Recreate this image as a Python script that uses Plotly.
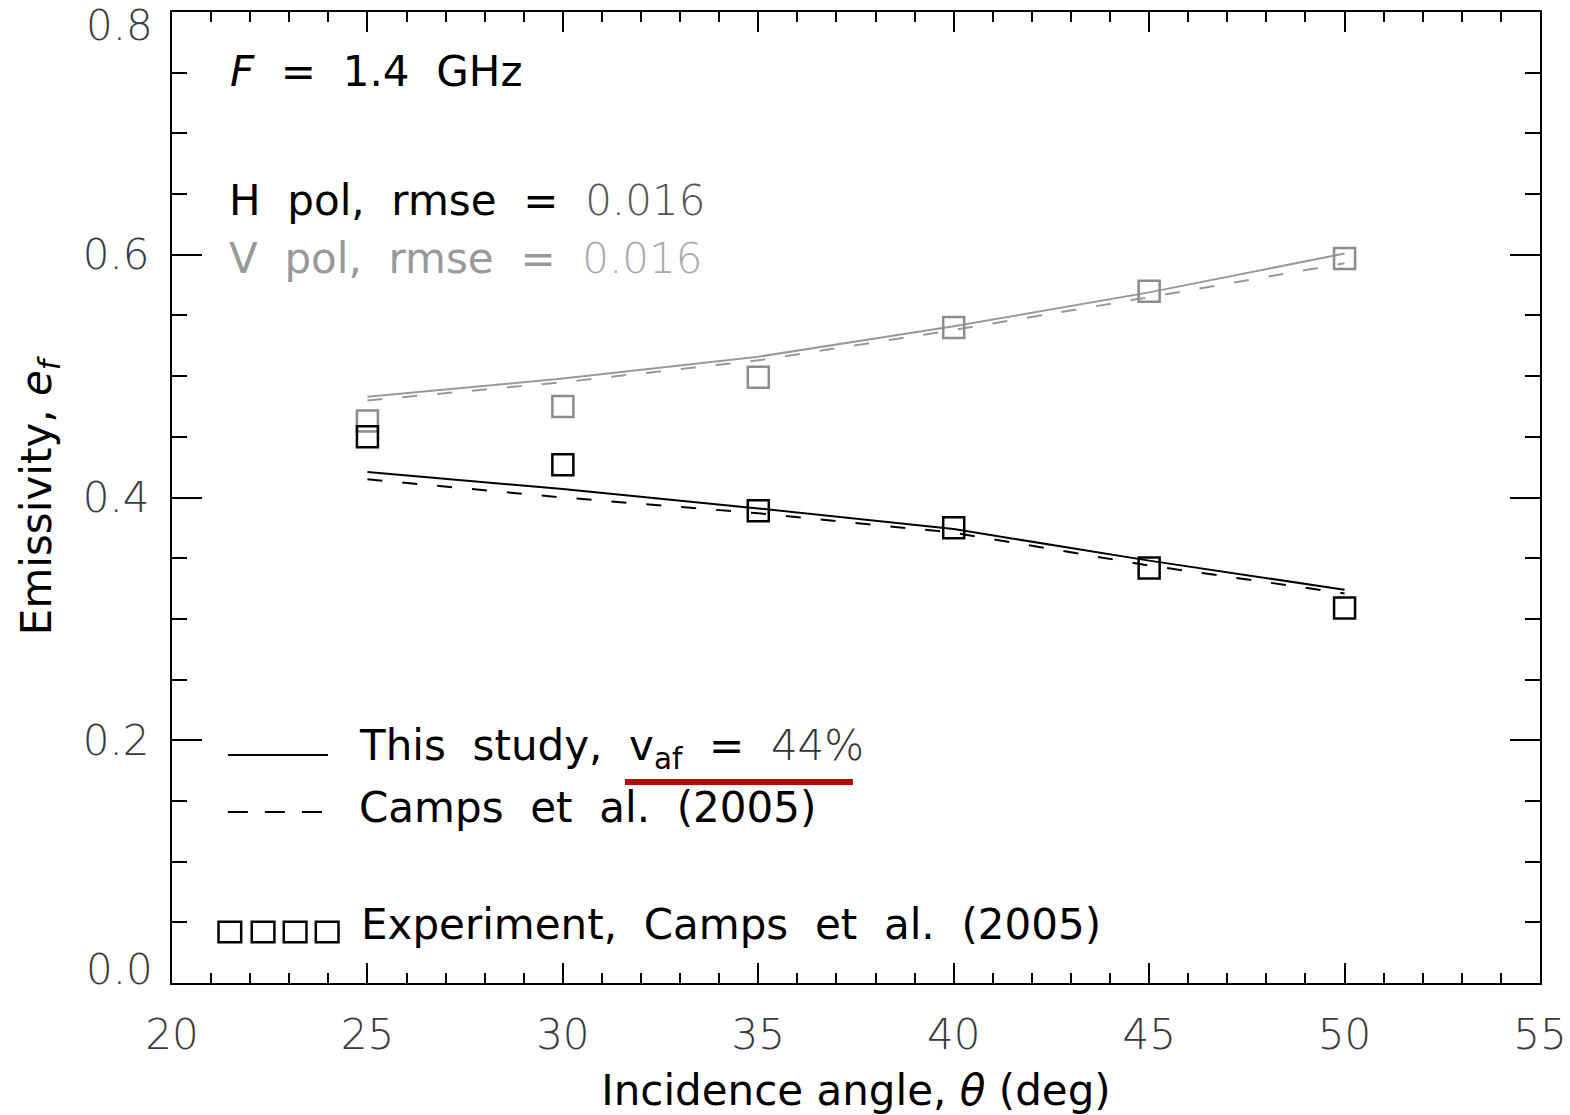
import plotly.graph_objects as go

# ---- data ----
angles = [25, 30, 35, 40, 45, 50]

# experiment (Camps et al. 2005)
exp_h = [0.450, 0.427, 0.389, 0.375, 0.342, 0.309]
exp_v = [0.463, 0.475, 0.499, 0.540, 0.570, 0.597]

# this study (solid)
study_h = [0.421, 0.407, 0.391, 0.374, 0.348, 0.324]
study_v = [0.483, 0.498, 0.516, 0.541, 0.569, 0.601]

# Camps et al. (2005) model (dashed)
camps_h = [0.415, 0.400, 0.387, 0.371, 0.344, 0.321]
camps_v = [0.480, 0.495, 0.513, 0.538, 0.565, 0.593]

x_ticks = [20, 25, 30, 35, 40, 45, 50, 55]
y_ticks = [0.0, 0.2, 0.4, 0.6, 0.8]
y_tick_labels = ["0.0", "0.2", "0.4", "0.6", "0.8"]
# end labels are drawn nudged inward (as in the original), the rest by the axis
y_end_labels = {0.0: "0.0", 0.8: "0.8"}

BLACK = "#000000"
GRAY = "#999999"
NUMCOL = "#3a3a3a"
FONT = "DejaVu Sans"
FS = 42

fig = go.Figure()

# model curves
fig.add_trace(go.Scatter(x=angles, y=camps_v, mode="lines",
                         line=dict(color=GRAY, width=2, dash="15px,20px"), showlegend=False))
fig.add_trace(go.Scatter(x=angles, y=study_v, mode="lines",
                         line=dict(color=GRAY, width=2), showlegend=False))
fig.add_trace(go.Scatter(x=angles, y=camps_h, mode="lines",
                         line=dict(color=BLACK, width=2, dash="15px,20px"), showlegend=False))
fig.add_trace(go.Scatter(x=angles, y=study_h, mode="lines",
                         line=dict(color=BLACK, width=2), showlegend=False))

# experiment markers
fig.add_trace(go.Scatter(x=angles, y=exp_v, mode="markers",
                         marker=dict(symbol="square-open", size=21, color="#8c8c8c",
                                     line=dict(width=2.5, color="#8c8c8c")),
                         showlegend=False))
fig.add_trace(go.Scatter(x=angles, y=exp_h, mode="markers",
                         marker=dict(symbol="square-open", size=21, color=BLACK,
                                     line=dict(width=2.5, color=BLACK)),
                         showlegend=False))

SP = "\u00a0\u00a0"
THIN = "font-weight:300"

def ann(x, y, text, color=BLACK):
    return dict(x=x, y=y, xref="x", yref="y", text=text, showarrow=False,
                xanchor="left", yanchor="middle",
                font=dict(family=FONT, size=FS, color=color))

annotations = [
    ann(21.43, 0.7506, f"<i>F</i>{SP}={SP}1.4{SP}GHz"),
    ann(21.40, 0.645, f"H{SP}pol,{SP}rmse{SP}={SP}<span style='color:#555555;{THIN}'>0.016</span>"),
    ann(21.40, 0.597, f"V{SP}pol,{SP}rmse{SP}={SP}<span style='color:#aaaaaa;{THIN}'>0.016</span>", color=GRAY),
    ann(24.73, 0.1928, f"This{SP}study,{SP}v<sub>af</sub>{SP}={SP}<span style='color:#333333;{THIN}'>44%</span>"),
    ann(24.73, 0.1442, f"Camps{SP}et{SP}al.{SP}(2005)"),
    ann(24.78, 0.0486, f"Experiment,{SP}Camps{SP}et{SP}al.{SP}(2005)"),
]

# nudged end tick labels of the y axis
for val, lab in y_end_labels.items():
    annotations.append(dict(
        x=0, xref="paper", xshift=-17, xanchor="right",
        y=val, yref="y", yshift=(14 if val == 0.0 else -13), yanchor="middle",
        text=lab, showarrow=False,
        font=dict(family=FONT, size=FS, color=NUMCOL, weight=300)))

shapes = [
    # legend keys
    dict(type="line", xref="x", yref="y", x0=21.43, x1=23.99, y0=0.1878, y1=0.1878,
         line=dict(color=BLACK, width=2)),
    dict(type="line", xref="x", yref="y", x0=21.43, x1=23.95, y0=0.1409, y1=0.1409,
         line=dict(color=BLACK, width=2, dash="20px,17px")),
    # red underline
    dict(type="line", xref="x", yref="y", x0=31.59, x1=37.42, y0=0.1656, y1=0.1656,
         line=dict(color="#c00000", width=6)),
]
for cx in [21.48, 22.33, 23.15, 23.97]:
    shapes.append(dict(type="rect", xref="x", yref="y",
                       x0=cx - 0.29, x1=cx + 0.29, y0=0.042 - 0.0085, y1=0.042 + 0.0085,
                       line=dict(color=BLACK, width=2.5)))

fig.update_layout(
    width=1570, height=1115,
    margin=dict(l=172, r=30, t=12, b=132),
    paper_bgcolor="white", plot_bgcolor="white",
    font=dict(family=FONT, size=FS, color=BLACK),
    annotations=annotations, shapes=shapes,
)

fig.update_xaxes(
    range=[20, 55], tickvals=x_ticks, ticktext=[str(v) for v in x_ticks],
    ticks="inside", ticklen=20, tickwidth=2, tickcolor=BLACK,
    minor=dict(dtick=1, ticks="inside", ticklen=10, tickwidth=2, tickcolor=BLACK),
    showline=True, linewidth=2, linecolor=BLACK, mirror="ticks",
    showgrid=False, zeroline=False, automargin=False,
    tickfont=dict(family=FONT, size=FS, color=NUMCOL, weight=300),
    ticklabelstandoff=14, ticklabeloverflow="allow",
    title=dict(text="Incidence angle, <i>θ</i> (deg)", standoff=18,
               font=dict(family=FONT, size=FS, color=BLACK)),
)
fig.update_yaxes(
    range=[0, 0.8], tickvals=y_ticks,
    ticktext=["" if v in y_end_labels else t for v, t in zip(y_ticks, y_tick_labels)],
    ticks="inside", ticklen=30, tickwidth=2, tickcolor=BLACK,
    minor=dict(dtick=0.05, ticks="inside", ticklen=15, tickwidth=2, tickcolor=BLACK),
    showline=True, linewidth=2, linecolor=BLACK, mirror="ticks",
    showgrid=False, zeroline=False, automargin=False,
    tickfont=dict(family=FONT, size=FS, color=NUMCOL, weight=300),
    ticklabelstandoff=12,
    title=dict(text="Emissivity, <i>e<sub>f</sub></i>", standoff=18,
               font=dict(family=FONT, size=FS, color=BLACK)),
)

fig.write_html("out.html")
